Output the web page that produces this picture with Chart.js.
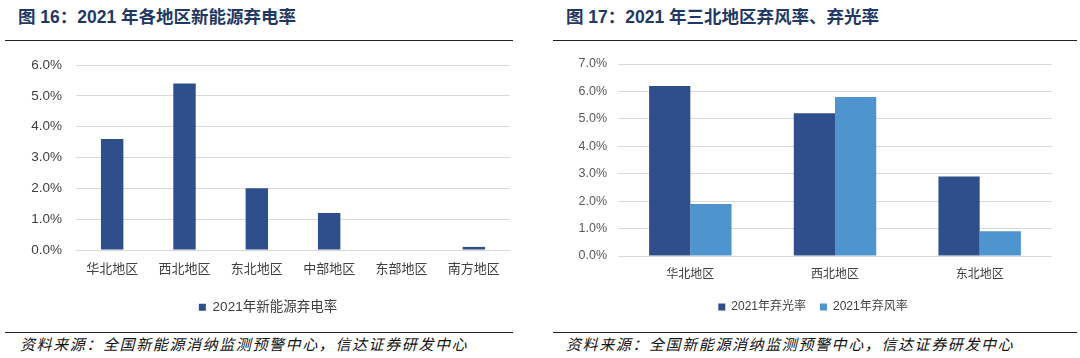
<!DOCTYPE html>
<html>
<head>
<meta charset="utf-8">
<script src="https://cdn.jsdelivr.net/npm/chart.js@4"></script>
<style>
  html,body{margin:0;padding:0;background:#fff;}
  body{width:1080px;height:358px;position:relative;overflow:hidden;font-family:"Liberation Sans","Noto Sans CJK SC",sans-serif;}
  .title{position:absolute;top:3px;font-size:17.5px;font-weight:bold;color:#1F3864;white-space:nowrap;font-family:"Liberation Sans","Noto Sans CJK SC",sans-serif;}
  .rule{position:absolute;height:1.5px;background:#222;}
  .src{position:absolute;top:333px;font-size:15px;font-style:italic;color:#111;white-space:nowrap;letter-spacing:1.6px;font-family:"Noto Sans CJK SC",sans-serif;}
  .box{position:absolute;}
</style>
</head>
<body>
<div class="title" style="left:18px;">图 16：2021 年各地区新能源弃电率</div>
<div class="rule" style="left:5px;width:508px;top:39.5px;"></div>
<div class="title" style="left:566px;">图 17：2021 年三北地区弃风率、弃光率</div>
<div class="rule" style="left:553px;width:524px;top:39.5px;"></div>

<div class="box" style="left:0;top:50px;width:525px;height:274px;"><canvas id="c1"></canvas></div>
<div class="box" style="left:540px;top:50px;width:540px;height:273px;"><canvas id="c2"></canvas></div>

<div class="rule" style="left:5px;width:508px;top:331.5px;"></div>
<div class="rule" style="left:553px;width:524px;top:331.5px;"></div>
<div class="src" style="left:20px;">资料来源：全国新能源消纳监测预警中心，信达证券研发中心</div>
<div class="src" style="left:566px;">资料来源：全国新能源消纳监测预警中心，信达证券研发中心</div>

<script>
// ---- Data ----
const regions16 = ['华北地区','西北地区','东北地区','中部地区','东部地区','南方地区'];
const curtail16 = [3.6, 5.4, 2.0, 1.2, 0.0, 0.1];
const series16Name = '2021年新能源弃电率';

const regions17 = ['华北地区','西北地区','东北地区'];
const solar17 = [6.2, 5.2, 2.9];
const wind17 = [1.9, 5.8, 0.9];
const solar17Name = '2021年弃光率';
const wind17Name = '2021年弃风率';

const DARK = '#2F4F8C';
const LIGHT = '#4E95D0';
const FONT = '"Liberation Sans","Noto Sans CJK SC",sans-serif';

function pct(v){ return Number(v).toFixed(1) + '%'; }

Chart.defaults.animation = false;
Chart.defaults.font.family = FONT;

new Chart(document.getElementById('c1'), {
  type: 'bar',
  data: {
    labels: regions16,
    datasets: [{label: series16Name, data: curtail16, backgroundColor: DARK, borderWidth: 0,
      barPercentage: 0.31, categoryPercentage: 1.0}]
  },
  options: {
    responsive: true, maintainAspectRatio: false,
    layout: {padding: {top: 15, right: 15, bottom: 0, left: 26}},
    plugins: {
      legend: {position: 'bottom', labels: {boxWidth: 7, boxHeight: 7, padding: 10, color: '#404040', font: {size: 13.5, family: FONT}}},
      tooltip: {enabled: false}
    },
    scales: {
      x: {
        grid: {display: false, drawTicks: false},
        border: {display: false},
        ticks: {padding: 10, color: '#404040', font: {size: 13, family: '"Noto Sans CJK SC",sans-serif'}},
        afterFit(s){ s.height = 40.5; }
      },
      y: {
        min: 0, max: 6,
        ticks: {stepSize: 1, padding: 14, color: '#404040', font: {size: 13.5, family: FONT}, callback: pct},
        grid: {color: '#D9D9D9', lineWidth: 1, drawTicks: false},
        border: {display: false},
        afterFit(s){ s.width = 50; s.paddingTop = 0; }
      }
    }
  }
});

new Chart(document.getElementById('c2'), {
  type: 'bar',
  data: {
    labels: regions17,
    datasets: [
      {label: solar17Name, data: solar17, backgroundColor: DARK, borderWidth: 0, barPercentage: 1.0, categoryPercentage: 0.57},
      {label: wind17Name, data: wind17, backgroundColor: LIGHT, borderWidth: 0, barPercentage: 1.0, categoryPercentage: 0.57}
    ]
  },
  options: {
    responsive: true, maintainAspectRatio: false,
    layout: {padding: {top: 14, right: 28, bottom: 0, left: 34}},
    plugins: {
      legend: {position: 'bottom', labels: {boxWidth: 7, boxHeight: 7, padding: 14, color: '#404040', font: {size: 12, family: FONT}}},
      tooltip: {enabled: false}
    },
    scales: {
      x: {
        grid: {display: false, drawTicks: false},
        border: {display: false},
        ticks: {padding: 10, color: '#404040', font: {size: 12, family: '"Noto Sans CJK SC",sans-serif'}},
        afterFit(s){ s.height = 31; }
      },
      y: {
        min: 0, max: 7,
        ticks: {stepSize: 1, padding: 11, color: '#595959', font: {size: 12.5, family: FONT}, callback: pct},
        grid: {color: '#D9D9D9', lineWidth: 1, drawTicks: false},
        border: {display: false},
        afterFit(s){ s.width = 44; s.paddingTop = 0; }
      }
    }
  }
});
</script>
</body>
</html>
